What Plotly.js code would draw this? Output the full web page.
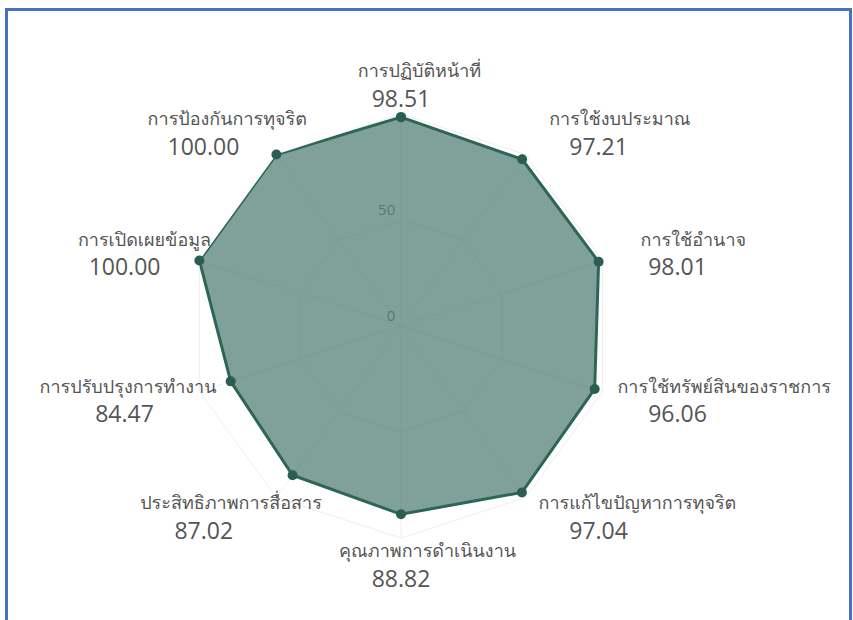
<!DOCTYPE html>
<html>
<head>
<meta charset="utf-8">
<script src="https://cdn.plot.ly/plotly-3.0.1.min.js"></script>
<style>
  html, body { margin:0; padding:0; background:#fff; }
  #frame { position:absolute; left:5px; top:8px; width:841px; height:640px; border:3px solid #4472c4; box-sizing:content-box; pointer-events:none; }
  #chart { position:absolute; left:0; top:0; width:853px; height:620px; }
</style>
</head>
<body>
<div id="chart"></div>
<div id="frame"></div>
<script>
const categories = [
  "การปฏิบัติหน้าที่",
  "การใช้งบประมาณ",
  "การใช้อำนาจ",
  "การใช้ทรัพย์สินของราชการ",
  "การแก้ไขปัญหาการทุจริต",
  "คุณภาพการดำเนินงาน",
  "ประสิทธิภาพการสื่อสาร",
  "การปรับปรุงการทำงาน",
  "การเปิดเผยข้อมูล",
  "การป้องกันการทุจริต"
];
const scores = [98.51, 97.21, 98.01, 96.06, 97.04, 88.82, 87.02, 84.47, 100.00, 100.00];
const radialTicks = [0, 50];

const tickText = categories.map((c, i) =>
  "<span style='font-size:18px'>" + c + "</span><br>" +
  "<span style=\"font-family:'Open Sans'\">" + scores[i].toFixed(2) + "</span>");

const trace = {
  type: "scatterpolar",
  r: scores.concat([scores[0]]),
  theta: categories.concat([categories[0]]),
  mode: "lines+markers",
  fill: "toself",
  fillcolor: "rgba(44,98,86,0.6)",
  line: { color: "#2d6656", width: 3 },
  marker: { color: "#2b5e50", size: 10 },
  hoverinfo: "skip"
};

const layout = {
  width: 853, height: 620,
  margin: { l: 0, r: 0, t: 0, b: 0 },
  paper_bgcolor: "#ffffff",
  showlegend: false,
  font: { family: "Tahoma, Loma, Garuda, 'Noto Sans Thai', 'Noto Sans', sans-serif", color: "#555555", size: 15 },
  polar: {
    domain: { x: [189/853, 613/853], y: [1 - 538/620, 1 - 114/620] },
    bgcolor: "rgba(0,0,0,0)",
    gridshape: "linear",
    radialaxis: {
      range: [0, 100],
      tickvals: radialTicks,
      ticktext: radialTicks.map(String),
      angle: 90,
      tickangle: 90,
      side: "counterclockwise",
      showline: false,
      gridcolor: "#f1f1f1",
      tickfont: { size: 15, color: "#9a9a9a", family: "'Open Sans', sans-serif" },
      layer: "below traces",
      ticks: ""
    },
    angularaxis: {
      type: "category",
      categoryarray: categories,
      tickvals: categories,
      ticktext: tickText,
      rotation: 90,
      direction: "clockwise",
      gridcolor: "#f1f1f1",
      linecolor: "#eeeeee",
      showline: true,
      ticks: "",
      tickfont: { size: 23, color: "#555555" },
      layer: "below traces"
    }
  }
};

function shiftOnScreen(el, sx, sy) {
  const M = el.parentNode.getScreenCTM();
  if (!M) return;
  const det = M.a * M.d - M.b * M.c;
  const lx = (M.d * sx - M.c * sy) / det;
  const ly = (-M.b * sx + M.a * sy) / det;
  el.setAttribute("transform", "translate(" + lx + "," + ly + ") " + (el.getAttribute("transform") || ""));
}

Plotly.newPlot("chart", [trace], layout, { displayModeBar: false, staticPlot: true }).then(function (gd) {
  // arrange the two lines of each category label the way the reference draws them
  let texts = gd.querySelectorAll("g.angularaxistick text");
  if (!texts.length) texts = gd.querySelectorAll(".angularaxis text");
  texts.forEach(function (t) {
    const anchor = t.getAttribute("text-anchor") || "start";
    const bb = t.getBBox();
    const rc = t.getBoundingClientRect();
    const cy = rc.top + rc.height / 2;
    const left = bb.x, right = bb.x + bb.width;
    let vc;
    if (anchor === "start") vc = left + 70;
    else if (anchor === "end") vc = right - 70;
    else vc = left + bb.width / 2;
    let lines = t.querySelectorAll("tspan.line");
    if (lines.length < 2) lines = t.children;
    t.setAttribute("text-anchor", "middle");
    t.setAttribute("x", vc);
    if (lines.length >= 2) {
      const w0 = lines[0].getComputedTextLength();
      let c0 = vc + 0.15 * w0;
      if (anchor === "start") c0 = Math.max(c0, left + 10 + w0 / 2);
      if (anchor === "end" && cy > 300 && cy < 450) c0 = Math.min(c0, right + 22 - w0 / 2);
      lines[0].setAttribute("x", c0);
      lines[1].setAttribute("x", vc);
    }
    let dy = 0;
    if (anchor === "middle") {
      dy = cy < 300 ? 3 : -9;
    } else {
      if (cy < 200) dy = 1;
      else if (cy < 300) dy = 0;
      else if (cy < 450) dy = -5;
      else dy = -13;
    }
    if (dy) t.setAttribute("transform", (t.getAttribute("transform") || "") + " translate(0," + dy + ")");
  });
  // radial tick labels sit a little above their grid level, as in the reference
  const tickStrings = radialTicks.map(String);
  gd.querySelectorAll("text").forEach(function (t) {
    if (tickStrings.indexOf(t.textContent.trim()) >= 0) shiftOnScreen(t, -3, -10);
  });
});
</script>
</body>
</html>
